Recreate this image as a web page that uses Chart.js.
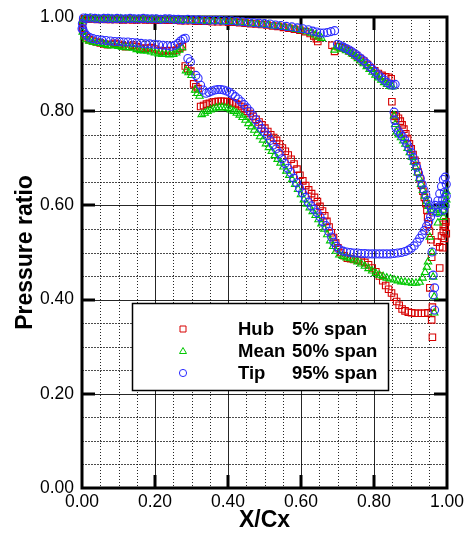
<!DOCTYPE html>
<html>
<head>
<meta charset="utf-8">
<script src="https://cdn.jsdelivr.net/npm/chart.js@4/dist/chart.umd.min.js"></script>
<style>
  html, body { margin: 0; padding: 0; background: #fff; }
  #wrap { width: 473px; height: 535px; position: relative; }
</style>
</head>
<body>
<div id="wrap"><canvas id="c" width="473" height="535"></canvas></div>
<script>
// ---- Blade-surface pressure ratio vs. axial chord, three span stations ----

const seriesNames = ['Hub', 'Mean', 'Tip'];
const seriesSpans = ['5% span', '50% span', '95% span'];
const majorTicks = [0, 0.2, 0.4, 0.6, 0.8, 1.0];
const minorTicks = [0.05, 0.10, 0.15, 0.25, 0.30, 0.35, 0.45, 0.50, 0.55, 0.65, 0.70, 0.75, 0.85, 0.90, 0.95];

// Hub, 5% span: pressure surface
const hubPressure = [
  [0.002,0.990],[0.008,0.996],[0.018,0.996],[0.030,0.996],[0.042,0.995],[0.054,0.996],[0.066,0.995],[0.078,0.995],
  [0.090,0.995],[0.102,0.995],[0.114,0.994],[0.126,0.995],[0.138,0.994],[0.150,0.994],[0.162,0.995],[0.174,0.994],
  [0.186,0.994],[0.198,0.994],[0.210,0.993],[0.222,0.994],[0.234,0.993],[0.246,0.993],[0.258,0.993],[0.270,0.992],
  [0.283,0.992],[0.297,0.992],[0.312,0.991],[0.327,0.991],[0.342,0.991],[0.357,0.990],[0.372,0.990],[0.387,0.990],
  [0.402,0.989],[0.417,0.989],[0.432,0.988],[0.447,0.987],[0.462,0.986],[0.477,0.985],[0.492,0.984],[0.507,0.983],
  [0.522,0.981],[0.537,0.980],[0.552,0.978],[0.567,0.976],[0.582,0.974],[0.597,0.972],[0.612,0.969],[0.625,0.965],
  [0.635,0.960],[0.642,0.954],[0.646,0.948],
  [0.685,0.940],[0.692,0.927],[0.702,0.937],[0.712,0.935],[0.722,0.932],[0.732,0.928],[0.742,0.923],[0.752,0.918],
  [0.762,0.912],[0.772,0.906],[0.782,0.899],[0.792,0.892],[0.802,0.886],[0.812,0.880],[0.822,0.876],[0.832,0.873],
  [0.840,0.872],[0.847,0.869],
  [0.849,0.820],[0.855,0.790],[0.861,0.789],[0.867,0.785],[0.872,0.779],[0.877,0.771],[0.882,0.762],[0.887,0.752],
  [0.892,0.742],[0.897,0.731],[0.902,0.720],[0.907,0.708],[0.912,0.696],[0.917,0.684],[0.921,0.671],[0.926,0.657],
  [0.930,0.643],[0.934,0.630],[0.938,0.617],[0.942,0.604],[0.945,0.590],[0.947,0.575],[0.949,0.560],[0.952,0.545]
];
// Hub, 5% span: suction surface
const hubSuction = [
  [0.002,0.972],[0.006,0.962],[0.012,0.956],[0.020,0.952],[0.030,0.949],[0.040,0.947],[0.050,0.945],[0.060,0.943],
  [0.070,0.941],[0.080,0.942],[0.090,0.944],[0.100,0.942],[0.110,0.939],[0.120,0.937],[0.130,0.938],[0.140,0.940],
  [0.150,0.937],[0.160,0.934],[0.170,0.932],[0.180,0.934],[0.190,0.935],[0.200,0.932],[0.210,0.929],[0.220,0.927],
  [0.230,0.928],[0.240,0.929],[0.250,0.928],[0.260,0.930],[0.268,0.934],[0.275,0.937],
  [0.283,0.896],[0.290,0.890],[0.298,0.885],[0.306,0.858],[0.312,0.852],[0.318,0.848],
  [0.325,0.810],[0.333,0.812],[0.341,0.815],[0.349,0.817],[0.357,0.819],[0.365,0.820],[0.373,0.821],[0.381,0.821],
  [0.389,0.821],[0.397,0.820],[0.405,0.820],[0.413,0.818],[0.421,0.816],[0.429,0.814],[0.437,0.810],[0.445,0.805],
  [0.453,0.800],[0.461,0.795],[0.469,0.789],[0.477,0.783],[0.485,0.777],[0.493,0.771],[0.501,0.764],[0.509,0.757],
  [0.517,0.750],[0.525,0.744],[0.533,0.738],[0.541,0.730],[0.549,0.722],[0.557,0.715],[0.565,0.707],[0.573,0.698],
  [0.581,0.688],[0.589,0.677],[0.597,0.664],[0.605,0.652],[0.613,0.642],[0.621,0.633],[0.629,0.625],[0.637,0.617],
  [0.645,0.608],[0.652,0.598],[0.659,0.588],[0.665,0.578],[0.671,0.566],[0.677,0.554],[0.683,0.542],[0.689,0.532],
  [0.695,0.520],[0.701,0.510],[0.709,0.500],[0.718,0.493],[0.727,0.488],[0.736,0.487],[0.745,0.485],[0.755,0.484],
  [0.765,0.482],[0.775,0.479],[0.785,0.474],[0.795,0.467],[0.805,0.459],[0.815,0.450],[0.824,0.440],[0.832,0.430],
  [0.840,0.422],[0.848,0.414],[0.855,0.405],[0.862,0.396],[0.869,0.388],[0.877,0.380],[0.885,0.376],[0.894,0.373],
  [0.903,0.372],[0.912,0.371],[0.921,0.371],[0.930,0.371],[0.939,0.371],[0.948,0.372]
];
// Hub, 5% span: trailing-edge taps
const hubTrailing = [
  [0.956,0.527],[0.958,0.490],[0.953,0.425],[0.960,0.384],[0.958,0.357],[0.960,0.320],[0.973,0.522],[0.980,0.512],
  [0.980,0.467],[0.988,0.510],[0.985,0.535],[0.990,0.545],[0.995,0.555],[0.998,0.540],[0.993,0.530],[0.997,0.565],
  [0.990,0.560]
];

// Mean, 50% span: pressure surface
const meanPressure = [
  [0.002,0.992],[0.010,0.997],[0.022,0.997],[0.034,0.996],[0.046,0.996],[0.058,0.996],[0.070,0.996],[0.082,0.996],
  [0.094,0.995],[0.106,0.996],[0.118,0.995],[0.130,0.995],[0.142,0.995],[0.154,0.995],[0.166,0.995],[0.178,0.995],
  [0.190,0.994],[0.202,0.995],[0.214,0.994],[0.226,0.994],[0.238,0.994],[0.250,0.994],[0.262,0.993],[0.274,0.993],
  [0.287,0.993],[0.301,0.992],[0.316,0.992],[0.331,0.992],[0.346,0.991],[0.361,0.991],[0.376,0.991],[0.391,0.990],
  [0.406,0.990],[0.421,0.989],[0.436,0.988],[0.451,0.987],[0.466,0.986],[0.481,0.985],[0.496,0.984],[0.511,0.983],
  [0.526,0.981],[0.541,0.980],[0.556,0.978],[0.571,0.976],[0.586,0.974],[0.601,0.972],[0.616,0.969],[0.628,0.966],
  [0.639,0.962],[0.648,0.958],[0.656,0.955],
  [0.692,0.930],[0.700,0.936],[0.708,0.934],[0.716,0.932],[0.724,0.929],[0.732,0.926],[0.740,0.922],[0.748,0.917],
  [0.756,0.912],[0.764,0.907],[0.772,0.901],[0.780,0.895],[0.788,0.889],[0.796,0.883],[0.804,0.877],[0.812,0.871],
  [0.820,0.866],[0.828,0.861],[0.836,0.857],[0.844,0.853],[0.850,0.852],
  [0.855,0.790],[0.858,0.772],[0.862,0.756],[0.868,0.750],[0.874,0.744],[0.880,0.737],[0.886,0.730],[0.892,0.721],
  [0.898,0.712],[0.904,0.702],[0.909,0.692],[0.914,0.681],[0.919,0.669],[0.924,0.657],[0.929,0.645],[0.934,0.632],
  [0.939,0.620],[0.944,0.608],[0.949,0.598],[0.955,0.590],[0.962,0.590]
];
// Mean, 50% span: suction surface
const meanSuction = [
  [0.002,0.968],[0.006,0.958],[0.012,0.952],[0.020,0.949],[0.030,0.947],[0.040,0.945],[0.050,0.944],[0.060,0.942],
  [0.070,0.940],[0.080,0.939],[0.090,0.940],[0.100,0.938],[0.110,0.936],[0.120,0.935],[0.130,0.935],[0.140,0.934],
  [0.150,0.931],[0.160,0.929],[0.170,0.928],[0.180,0.928],[0.190,0.926],[0.200,0.924],[0.210,0.922],[0.220,0.921],
  [0.230,0.921],[0.240,0.920],[0.250,0.921],[0.258,0.924],[0.266,0.930],[0.274,0.935],
  [0.285,0.886],[0.292,0.882],[0.300,0.876],[0.310,0.845],[0.316,0.838],[0.322,0.832],
  [0.328,0.793],[0.336,0.796],[0.344,0.800],[0.352,0.803],[0.360,0.805],[0.368,0.807],[0.376,0.808],[0.384,0.808],
  [0.392,0.807],[0.400,0.806],[0.408,0.803],[0.416,0.800],[0.424,0.796],[0.432,0.792],[0.440,0.787],[0.448,0.781],
  [0.456,0.774],[0.464,0.767],[0.472,0.760],[0.480,0.753],[0.488,0.746],[0.496,0.739],[0.504,0.731],[0.512,0.723],
  [0.520,0.715],[0.528,0.706],[0.536,0.698],[0.544,0.690],[0.552,0.682],[0.560,0.673],[0.568,0.664],[0.576,0.655],
  [0.584,0.645],[0.592,0.634],[0.600,0.623],[0.608,0.612],[0.616,0.603],[0.624,0.595],[0.632,0.587],[0.640,0.579],
  [0.648,0.570],[0.656,0.561],[0.664,0.550],[0.672,0.538],[0.680,0.525],[0.688,0.513],[0.696,0.503],[0.705,0.495],
  [0.715,0.492],[0.725,0.489],[0.735,0.487],[0.745,0.484],[0.755,0.480],[0.765,0.476],[0.775,0.471],[0.785,0.466],
  [0.795,0.461],[0.805,0.456],[0.815,0.452],[0.825,0.449],[0.835,0.446],[0.845,0.444],[0.855,0.442],[0.865,0.440],
  [0.875,0.438],[0.885,0.437],[0.895,0.436],[0.905,0.435],[0.915,0.435],[0.925,0.437],[0.933,0.446],[0.940,0.458],
  [0.945,0.469]
];
// Mean, 50% span: trailing-edge taps
const meanTrailing = [
  [0.948,0.480],[0.953,0.533],[0.959,0.500],[0.962,0.448],[0.965,0.406],[0.965,0.372],[0.975,0.563],[0.970,0.585],
  [0.980,0.584],[0.990,0.590],[0.995,0.600],[0.998,0.612],[0.993,0.622],[0.998,0.630],[0.985,0.600],[0.990,0.575]
];

// Tip, 95% span: pressure surface
const tipPressure = [
  [0.000,0.975],[0.001,0.986],[0.004,0.998],[0.012,0.997],[0.024,0.998],[0.036,0.997],[0.048,0.996],[0.060,0.997],
  [0.072,0.997],[0.084,0.996],[0.096,0.997],[0.108,0.996],[0.120,0.996],[0.132,0.997],[0.144,0.996],[0.156,0.996],
  [0.168,0.997],[0.180,0.996],[0.192,0.996],[0.204,0.996],[0.216,0.995],[0.228,0.996],[0.240,0.996],[0.252,0.995],
  [0.264,0.995],[0.276,0.994],[0.290,0.995],[0.305,0.994],[0.320,0.994],[0.335,0.993],[0.350,0.993],[0.365,0.993],
  [0.380,0.993],[0.395,0.992],[0.410,0.992],[0.425,0.991],[0.440,0.990],[0.455,0.989],[0.470,0.988],[0.485,0.987],
  [0.500,0.986],[0.515,0.985],[0.530,0.983],[0.545,0.982],[0.560,0.980],[0.575,0.979],[0.590,0.977],[0.605,0.975],
  [0.620,0.973],[0.632,0.970],[0.643,0.968],[0.653,0.966],[0.662,0.966],[0.672,0.967],[0.682,0.969],[0.692,0.971],
  [0.700,0.942],[0.708,0.939],[0.716,0.936],[0.724,0.933],[0.732,0.930],[0.740,0.926],[0.748,0.922],[0.756,0.917],
  [0.764,0.912],[0.772,0.907],[0.780,0.901],[0.788,0.895],[0.796,0.889],[0.804,0.883],[0.812,0.877],[0.820,0.871],
  [0.828,0.866],[0.836,0.861],[0.844,0.857],[0.852,0.855],[0.858,0.857],
  [0.855,0.798],[0.857,0.780],[0.860,0.766],[0.866,0.758],[0.872,0.752],[0.878,0.746],[0.884,0.739],[0.890,0.731],
  [0.896,0.722],[0.902,0.712],[0.907,0.702],[0.912,0.692],[0.917,0.681],[0.922,0.669],[0.927,0.657],[0.932,0.645],
  [0.937,0.633],[0.942,0.622],[0.947,0.611],[0.952,0.601],[0.957,0.593]
];
// Tip, 95% span: suction surface
const tipSuction = [
  [0.002,0.975],[0.006,0.967],[0.012,0.961],[0.020,0.957],[0.030,0.954],[0.042,0.952],[0.054,0.951],[0.066,0.950],
  [0.078,0.949],[0.090,0.948],[0.102,0.948],[0.114,0.947],[0.126,0.947],[0.138,0.946],[0.150,0.945],[0.162,0.944],
  [0.174,0.943],[0.186,0.943],[0.198,0.942],[0.210,0.941],[0.222,0.940],[0.234,0.939],[0.245,0.938],[0.255,0.940],
  [0.263,0.944],[0.270,0.949],[0.277,0.953],[0.283,0.955],
  [0.290,0.912],[0.297,0.905],[0.312,0.876],[0.318,0.870],[0.325,0.855],[0.332,0.845],
  [0.340,0.838],[0.348,0.840],[0.356,0.843],[0.364,0.845],[0.372,0.846],[0.380,0.846],[0.388,0.845],[0.396,0.843],
  [0.404,0.840],[0.412,0.836],[0.420,0.831],[0.428,0.826],[0.436,0.820],[0.444,0.814],[0.452,0.807],[0.460,0.800],
  [0.468,0.791],[0.476,0.782],[0.484,0.772],[0.492,0.763],[0.500,0.756],[0.508,0.748],[0.516,0.738],[0.524,0.728],
  [0.532,0.720],[0.540,0.710],[0.548,0.699],[0.556,0.689],[0.564,0.679],[0.572,0.670],[0.580,0.658],[0.588,0.648],
  [0.596,0.637],[0.604,0.627],[0.612,0.617],[0.620,0.607],[0.628,0.599],[0.636,0.592],[0.644,0.585],[0.652,0.576],
  [0.660,0.566],[0.668,0.557],[0.676,0.545],[0.684,0.533],[0.690,0.522],[0.697,0.513],[0.705,0.507],[0.715,0.503],
  [0.725,0.501],[0.735,0.500],[0.745,0.499],[0.755,0.499],[0.765,0.498],[0.775,0.498],[0.785,0.497],[0.795,0.497],
  [0.805,0.497],[0.815,0.497],[0.825,0.497],[0.835,0.497],[0.845,0.497],[0.855,0.498],[0.865,0.499],[0.875,0.500],
  [0.885,0.502],[0.894,0.505],[0.902,0.509],[0.910,0.514],[0.918,0.522],[0.925,0.530],[0.932,0.538],[0.938,0.547],
  [0.944,0.556],[0.950,0.566],[0.955,0.576],[0.960,0.586]
];
// Tip, 95% span: trailing-edge taps
const tipTrailing = [
  [0.968,0.600],[0.975,0.610],[0.980,0.625],[0.985,0.640],[0.990,0.655],[0.995,0.660],[0.998,0.645],[0.993,0.628],
  [0.988,0.612],[0.995,0.600],[0.990,0.590],[0.982,0.600],[0.975,0.585],[0.998,0.620],
  [0.959,0.501],[0.962,0.452],[0.966,0.425],[0.962,0.410],[0.966,0.378]
];

const toXY = pts => pts.map(([x, y]) => ({ x, y }));

const HUB_COLOR = 'rgb(215,0,0)';
const MEAN_COLOR = 'rgb(0,200,0)';
const TIP_COLOR = 'rgb(45,45,255)';
const FONT = '"Liberation Sans", Arial, sans-serif';

// grid, heavy frame and inward major tick marks
const framePlugin = {
  id: 'frame',
  beforeDatasetsDraw(chart) {
    const { ctx, chartArea: a, scales: { x, y } } = chart;
    const px = v => Math.round(x.getPixelForValue(v)) + 0.5;
    const py = v => Math.round(y.getPixelForValue(v)) + 0.5;
    ctx.save();
    ctx.lineWidth = 1;
    // minor vertical: dotted
    ctx.strokeStyle = 'rgba(0,0,0,0.85)';
    ctx.setLineDash([1, 2]);
    minorTicks.forEach(v => {
      ctx.beginPath(); ctx.moveTo(px(v), a.top); ctx.lineTo(px(v), a.bottom); ctx.stroke();
    });
    // minor horizontal: short dashes
    ctx.strokeStyle = 'rgba(0,0,0,0.7)';
    ctx.setLineDash([2, 1]);
    minorTicks.forEach(v => {
      ctx.beginPath(); ctx.moveTo(a.left, py(v)); ctx.lineTo(a.right, py(v)); ctx.stroke();
    });
    // major grid: solid
    ctx.setLineDash([]);
    ctx.strokeStyle = 'rgba(0,0,0,0.85)';
    majorTicks.slice(1, -1).forEach(v => {
      ctx.beginPath(); ctx.moveTo(px(v), a.top); ctx.lineTo(px(v), a.bottom); ctx.stroke();
      ctx.beginPath(); ctx.moveTo(a.left, py(v)); ctx.lineTo(a.right, py(v)); ctx.stroke();
    });
    // inward major ticks on all four sides
    ctx.strokeStyle = '#000';
    ctx.lineWidth = 3;
    const tl = 13;
    majorTicks.slice(1, -1).forEach(v => {
      const X = Math.round(x.getPixelForValue(v)), Y = Math.round(y.getPixelForValue(v));
      ctx.beginPath(); ctx.moveTo(X, a.bottom); ctx.lineTo(X, a.bottom - tl); ctx.stroke();
      ctx.beginPath(); ctx.moveTo(X, a.top); ctx.lineTo(X, a.top + tl); ctx.stroke();
      ctx.beginPath(); ctx.moveTo(a.left, Y); ctx.lineTo(a.left + tl, Y); ctx.stroke();
      ctx.beginPath(); ctx.moveTo(a.right, Y); ctx.lineTo(a.right - tl, Y); ctx.stroke();
    });
    // frame
    ctx.lineWidth = 3;
    ctx.strokeRect(a.left, a.top, a.right - a.left, a.bottom - a.top);
    ctx.restore();
  }
};

function drawMarker(ctx, style, cx, cy, color) {
  ctx.save();
  ctx.strokeStyle = color;
  ctx.lineWidth = 1;
  ctx.beginPath();
  if (style === 'rect') {
    ctx.rect(cx - 3, cy - 3, 6, 6);
  } else if (style === 'triangle') {
    ctx.moveTo(cx, cy - 3.5); ctx.lineTo(cx + 3.5, cy + 2.5); ctx.lineTo(cx - 3.5, cy + 2.5); ctx.closePath();
  } else {
    ctx.arc(cx, cy, 3.6, 0, Math.PI * 2);
  }
  ctx.stroke();
  ctx.restore();
}

// boxed legend inside the plot
const legendPlugin = {
  id: 'spanLegend',
  afterDatasetsDraw(chart) {
    const { ctx, chartArea: a } = chart;
    const left = a.left + 50, top = a.top + 286, w = 256, h = 87;
    ctx.save();
    ctx.fillStyle = '#fff';
    ctx.fillRect(left, top, w, h);
    ctx.strokeStyle = '#000';
    ctx.lineWidth = 1.5;
    ctx.strokeRect(left + 0.5, top + 0.5, w, h);
    const styles = ['rect', 'triangle', 'circle'];
    const colors = [HUB_COLOR, MEAN_COLOR, TIP_COLOR];
    ctx.font = 'bold 18.5px ' + FONT;
    ctx.fillStyle = '#000';
    ctx.textBaseline = 'middle';
    ctx.textAlign = 'left';
    seriesNames.forEach((name, i) => {
      const cy = top + 26 + i * 22;
      drawMarker(ctx, styles[i], left + 51, cy, colors[i]);
      ctx.fillText(name, left + 106, cy + 1);
      ctx.fillText(seriesSpans[i], left + 160, cy + 1);
    });
    ctx.restore();
  }
};

const common = { showLine: false, pointBorderWidth: 1.1, pointBackgroundColor: 'rgba(0,0,0,0)', clip: false };

new Chart(document.getElementById('c'), {
  type: 'scatter',
  data: {
    datasets: [
      Object.assign({ label: seriesNames[2] + ' ' + seriesSpans[2], data: toXY([...tipPressure, ...tipSuction, ...tipTrailing]),
        pointStyle: 'circle', pointRadius: 4, borderColor: TIP_COLOR, pointBorderColor: TIP_COLOR, order: 0 }, common),
      Object.assign({ label: seriesNames[1] + ' ' + seriesSpans[1], data: toXY([...meanPressure, ...meanSuction, ...meanTrailing]),
        pointStyle: 'triangle', pointRadius: 4.3, borderColor: MEAN_COLOR, pointBorderColor: MEAN_COLOR, order: 1 }, common),
      Object.assign({ label: seriesNames[0] + ' ' + seriesSpans[0], data: toXY([...hubPressure, ...hubSuction, ...hubTrailing]),
        pointStyle: 'rect', pointRadius: 4.6, borderColor: HUB_COLOR, pointBorderColor: HUB_COLOR, order: 2 }, common)
    ]
  },
  options: {
    responsive: false,
    animation: false,
    events: [],
    layout: { padding: { left: 0, right: 26, top: 17, bottom: 0 } },
    plugins: { legend: { display: false }, tooltip: { enabled: false } },
    scales: {
      x: {
        type: 'linear', min: 0, max: 1,
        grid: { display: false }, border: { display: false },
        ticks: { stepSize: 0.2, padding: -4, color: '#000', font: { family: FONT, size: 17.5 },
          callback: v => Number(v).toFixed(2), maxRotation: 0 },
        title: { display: true, text: 'X/Cx', color: '#000', padding: { top: 0, bottom: 1 },
          font: { family: FONT, size: 23, weight: 'bold' } },
        afterFit: s => { s.height = 47; }
      },
      y: {
        type: 'linear', min: 0, max: 1,
        grid: { display: false }, border: { display: false },
        ticks: { stepSize: 0.2, padding: 0, color: '#000', font: { family: FONT, size: 17.5 },
          callback: v => Number(v).toFixed(2) },
        title: { display: true, text: 'Pressure ratio', color: '#000', padding: { top: 12, bottom: 0 },
          font: { family: FONT, size: 23, weight: 'bold' } },
        afterFit: s => { s.width = 82; }
      }
    }
  },
  plugins: [framePlugin, legendPlugin]
});
</script>
</body>
</html>
